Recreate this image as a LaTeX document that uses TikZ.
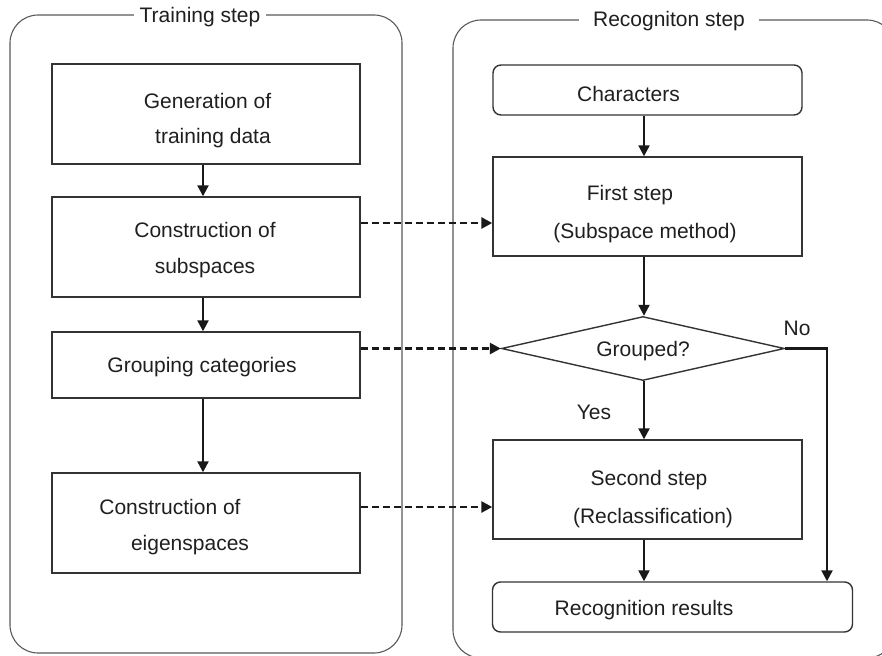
\documentclass[tikz,border=0pt]{standalone}
\usepackage{fontspec}
\setmainfont{Liberation Sans}
\usetikzlibrary{arrows.meta,shapes.geometric}
\begin{document}
\begin{tikzpicture}[x=1pt,y=-1pt,
  panel/.style={draw=black!65, line width=1.1pt, rounded corners=28pt},
  box/.style={draw=black!80, line width=1.4pt, inner sep=0pt},
  rbox/.style={box, rounded corners=8pt},
  decision/.style={box, diamond, aspect=4.42},
  txt/.style={anchor=base, inner sep=0pt, font=\fontsize{21}{25}\selectfont, text=black!88},
  title/.style={txt, fill=white},
  flow/.style={draw=black!90, line width=2.2pt, -{Triangle[length=11pt,width=11pt]}},
  ref/.style={flow, dash pattern=on 7pt off 4pt, line width=2.6pt}]

\useasboundingbox (0,0) rectangle (882,655);

% panels
\draw[panel] (10,15) rectangle (402,653);
\draw[panel] (453,20) rectangle (895,658);
\node[title, inner xsep=6pt] (t1) at (200,23) {Training step};
\node[title, inner xsep=14pt] (t2) at (669,27) {Recogniton step};

% left boxes
\node[box, minimum width=308pt, minimum height=100pt] (l1) at (206,114) {};
\node[box, minimum width=308pt, minimum height=100pt] (l2) at (206,247) {};
\node[box, minimum width=308pt, minimum height=66pt] (l3) at (206,365) {};
\node[box, minimum width=308pt, minimum height=100pt] (l4) at (206,523) {};

% right boxes
\node[rbox, minimum width=309pt, minimum height=50pt] (r0) at (647.5,90) {};
\node[box, minimum width=309pt, minimum height=99pt] (r1) at (647.5,206.5) {};
\node[decision, minimum width=283pt, minimum height=64pt] (d) at (643,348.5) {};
\node[box, minimum width=309pt, minimum height=99pt] (r2) at (647.5,489.5) {};
\node[rbox, minimum width=360pt, minimum height=50pt] (r3) at (672.5,607) {};

% texts
\node[txt] (l1a) at (207.5,109) {Generation of};
\node[txt] (l1b) at (213,144) {training data};
\node[txt] (l2a) at (205,237) {Construction of};
\node[txt] (l2b) at (205,273) {subspaces};
\node[txt] (l3a) at (202,372) {Grouping categories};
\node[txt] (l4a) at (170,514) {Construction of};
\node[txt] (l4b) at (190,550) {eigenspaces};
\node[txt] (r0a) at (628.5,102) {Characters};
\node[txt] (r1a) at (630,200) {First step};
\node[txt] (r1b) at (645,238) {(Subspace method)};
\node[txt] (da) at (643,356) {Grouped?};
\node[txt] (no) at (797,335) {No};
\node[txt] (yes) at (594,419) {Yes};
\node[txt] (r2a) at (649,485) {Second step};
\node[txt] (r2b) at (653,523) {(Reclassification)};
\node[txt] (r3a) at (644,615) {Recognition results};

% axes for connectors
\coordinate (axL) at (203,0);
\coordinate (axR) at (644,0);
\coordinate (nox) at (827,0);
\coordinate (y1) at (0,223);
\coordinate (y3) at (0,507);

% solid flow
\draw[flow] (axL |- l1.south) -- (axL |- l2.north);
\draw[flow] (axL |- l2.south) -- (axL |- l3.north);
\draw[flow] (axL |- l3.south) -- (axL |- l4.north);
\draw[flow] (axR |- r0.south) -- (axR |- r1.north);
\draw[flow] (axR |- r1.south) -- (axR |- d.north);
\draw[flow] (axR |- d.south) -- (axR |- r2.north);
\draw[flow] (axR |- r2.south) -- (axR |- r3.north);
\draw[flow] (d.east) -- (nox |- d.east) -- (nox |- r3.north);

% dashed references
\draw[ref] (l2.east |- y1) -- (r1.west |- y1);
\draw[ref] (l3.east |- d.west) -- (d.west);
\draw[ref] (l4.east |- y3) -- (r2.west |- y3);
\end{tikzpicture}
\end{document}
